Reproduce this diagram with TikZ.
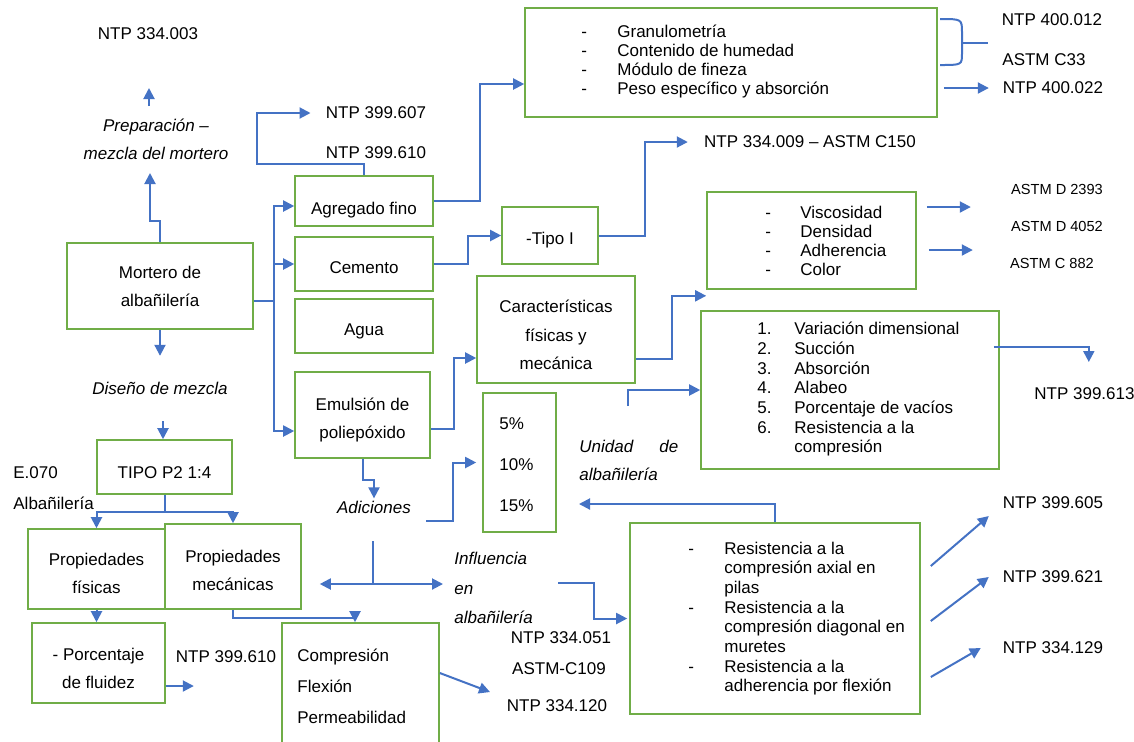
\documentclass[tikz,border=0pt]{standalone}
\usepackage{fontspec}
\setmainfont{Liberation Sans}
\usetikzlibrary{arrows.meta}

\definecolor{boxgreen}{RGB}{112,173,71}
\definecolor{linkblue}{RGB}{68,114,196}

\newcommand{\boxtext}[2][0pt]{\raisebox{-#1}[\height][\depth]{\begin{tabular}{@{}c@{}}#2\end{tabular}}}

\tikzset{
   box/.style={draw=boxgreen, line width=0.8pt, inner sep=0pt, align=center, font=\fontsize{8.5}{14}\selectfont},
   txt/.style={inner sep=1pt, font=\fontsize{8.5}{10}\selectfont},
   txts/.style={inner sep=1pt, font=\fontsize{7.3}{9}\selectfont},
   txti/.style={inner sep=1pt, align=left, font=\fontsize{8.5}{14}\selectfont\itshape},
   lst/.style={inner sep=0pt, align=left, font=\fontsize{8.5}{9.5}\selectfont},
   arr/.style={draw=linkblue, line width=1pt, -{Triangle[length=5.5pt,width=5.5pt]}},
   lnk/.style={draw=linkblue, line width=1pt}
}

\begin{document}
\begin{tikzpicture}[x=0.5pt, y=-0.5pt]

   \useasboundingbox (0,0) rectangle (1134,741);
   \clip (0,0) rectangle (1134,741);

   \node[box, minimum width=93pt, minimum height=43pt] (mortero) at (160,286) {\boxtext[0.5pt]{Mortero de\\albañilería}};
   \node[box, minimum width=67.5pt, minimum height=27pt] (tipo) at (164.5,467) {\boxtext[3pt]{TIPO P2 1:4}};
   \node[box, minimum width=68.5pt, minimum height=40pt] (pfis) at (96.5,569) {\boxtext[2.5pt]{Propiedades\\físicas}};
   \node[box, minimum width=68pt, minimum height=42.5pt] (pmec) at (233,566.5) {\boxtext[2pt]{Propiedades\\mecánicas}};
   \node[box, minimum width=66.5pt, minimum height=40pt] (fluidez) at (98.5,663) {\boxtext[3pt]{- Porcentaje\\de fluidez}};
   \node[box, minimum width=78.5pt, minimum height=68.5pt] (compr) at (360.5,691.5) {};
   \node[lst, anchor=west, font=\fontsize{8.5}{15.5}\selectfont] (comprlst) at (297,686) {Compresión\\Flexión\\Permeabilidad};
   \node[box, minimum width=69pt, minimum height=25pt] (agregado) at (364,201) {\boxtext[4pt]{Agregado fino}};
   \node[box, minimum width=69pt, minimum height=27pt] (cemento) at (364,264) {\boxtext[2pt]{Cemento}};
   \node[box, minimum width=69pt, minimum height=27pt] (agua) at (364,326) {\boxtext[2pt]{Agua}};
   \node[box, minimum width=67.5pt, minimum height=43pt] (emulsion) at (362.5,415) {\boxtext[2pt]{Emulsión de\\poliepóxido}};
   \node[box, minimum width=206pt, minimum height=54.5pt] (gran) at (731,62.5) {};
   \node[lst, anchor=west] (granlst) at (581,62.5) {\begin{tabular}{@{}p{18pt}@{}l@{}}-&Granulometría\\-&Contenido de humedad\\-&Módulo de fineza\\-&Peso específico y absorción\end{tabular}};
   \node[box, minimum width=48pt, minimum height=28.5pt] (tipoI) at (550,235.5) {\boxtext[1.5pt]{-Tipo I}};
   \node[box, minimum width=79pt, minimum height=53.5pt, font=\fontsize{8.5}{14.25}\selectfont] (caract) at (556,329.5) {\boxtext[3pt]{Características\\físicas y\\mecánica}};
   \node[box, minimum width=104.5pt, minimum height=48.5pt] (visc) at (811.5,240.5) {};
   \node[lst, anchor=west] (visclst) at (765,243.5) {\begin{tabular}{@{}p{17.5pt}@{}l@{}}-&Viscosidad\\-&Densidad\\-&Adherencia\\-&Color\end{tabular}};
   \node[box, minimum width=149pt, minimum height=79pt] (variac) at (850,390) {};
   \node[lst, anchor=west, font=\fontsize{8.5}{9.83}\selectfont] (variaclst) at (757,390) {\begin{tabular}{@{}p{18.5pt}@{}l@{}}1.&Variación dimensional\\2.&Succión\\3.&Absorción\\4.&Alabeo\\5.&Porcentaje de vacíos\\6.&Resistencia a la\\&compresión\end{tabular}};
   \node[box, minimum width=36.5pt, minimum height=69.5pt] (pct) at (519.5,462.5) {};
   \node[lst, anchor=west, font=\fontsize{8.5}{20.5}\selectfont] (pctlst) at (499,464.5) {5\%\\10\%\\15\%};
   \node[box, minimum width=145pt, minimum height=95.5pt] (resist) at (775,618.5) {};
   \node[lst, anchor=west, font=\fontsize{8.5}{9.85}\selectfont] (resistlst) at (688,619) {\begin{tabular}{@{}p{18pt}@{}l@{}}-&Resistencia a la\\&compresión axial en\\&pilas\\-&Resistencia a la\\&compresión diagonal en\\&muretes\\-&Resistencia a la\\&adherencia por flexión\end{tabular}};

   \node[txt] (n334003) at (148,34) {NTP 334.003};
   \node[txti, align=center] (prep) at (156,139) {Preparación –\\mezcla del mortero};
   \node[txti] (diseno) at (160,388) {Diseño de mezcla};
   \node[lst, anchor=west, font=\fontsize{8.5}{15.5}\selectfont] (e070) at (13,488) {E.070\\Albañilería};
   \node[txti] (adic) at (374,507) {Adiciones};
   \node[txti, anchor=west, inner sep=0pt, font=\fontsize{8.5}{14.75}\selectfont\itshape] (influ) at (454,588) {Influencia\\en\\albañilería};
   \node[txti, anchor=west, inner sep=0pt] (unidad) at (579,460) {\makebox[49.5pt][l]{Unidad\hfill de}\\albañilería};
   \node[txt] (n399607) at (376,113) {NTP 399.607};
   \node[txt] (n399610a) at (376,153) {NTP 399.610};
   \node[txt] (n400012) at (1052,20) {NTP 400.012};
   \node[txt, anchor=west] (astmc33) at (1000,60) {ASTM C33};
   \node[txt] (n400022) at (1053,88) {NTP 400.022};
   \node[txt] (n334009) at (810,142) {NTP 334.009 – ASTM C150};
   \node[txts] (d2393) at (1057,189) {ASTM D 2393};
   \node[txts] (d4052) at (1057,226) {ASTM D 4052};
   \node[txts] (c882) at (1052,263) {ASTM C 882};
   \node[txt, anchor=west] (n399613) at (1032,394) {NTP 399.613};
   \node[txt] (n399605) at (1053,503) {NTP 399.605};
   \node[txt] (n399621) at (1053,577) {NTP 399.621};
   \node[txt] (n334129) at (1053,648) {NTP 334.129};
   \node[txt] (n334051) at (561,638) {NTP 334.051};
   \node[txt] (astmc109) at (559,669) {ASTM-C109};
   \node[txt] (n334120) at (557,706) {NTP 334.120};
   \node[txt] (n399610b) at (226,657) {NTP 399.610};

   \coordinate (t1a) at (149,106);
   \coordinate (t1b) at (149,88);
   \coordinate (t2) at (150,173);
   \coordinate (t9) at (490,692);
   \coordinate (s11) at (426,521);
   \coordinate (j12a) at (373,541);
   \coordinate (j12) at (373,584);
   \coordinate (s13) at (558,583);
   \coordinate (t14) at (579,504);
   \coordinate (s30) at (628,406);

   \draw[arr] (t1a) -- (t1b);
   \draw[arr] (mortero.north) -- ++(0,-21) -| (t2);
   \draw[arr] (mortero.south) -- ++(0,26);
   \draw[arr] (tipo.north) ++(-1.5,-18) -- ++(0,18);
   \draw[arr] (tipo.south) -- ++(0,17) -| (pfis.north);
   \draw[arr] (tipo.south) -- ++(0,17) -| (pmec.north);
   \draw[arr] (pfis.south) -- (pfis.south |- fluidez.north);
   \draw[arr] (fluidez.east) ++(0,23) -- ++(28,0);
   \draw[arr] (pmec.south) -- ++(0,8) -| ([xshift=-2.75pt]compr.north);
   \draw[arr] (compr.east) ++(0,-18.5) -- (t9);
   \draw[arr] (emulsion.south) -- ++(0,21) -| (adic.north);
   \draw[arr, shorten >=3pt] (s11) -- ++(27,0) |- (pct.west);
   \draw[lnk] (j12a) -- (j12);
   \draw[arr] (j12) -- ([xshift=9pt]pmec.east |- j12);
   \draw[arr] (j12) -- ([xshift=-5.5pt]influ.west |- j12);
   \draw[arr] (s13) -- ++(36,0) |- ([xshift=-1pt]resist.west);
   \draw[arr] (resist.north) |- (t14);
   \draw[arr] (resist.east) ++(10,-52.5) -- ++(58,-50);
   \draw[arr] (resist.east) ++(10,2.5) -- ++(58,-44);
   \draw[arr] (resist.east) ++(10,58.5) -- ++(50,-29);

   \draw[arr] (mortero.east) ++(0,15) -- ++(20,0) |- ([yshift=-2.5pt]agregado.west);
   \draw[arr] (mortero.east) ++(0,15) -- ++(20,0) |- (cemento.west);
   \draw[arr] (mortero.east) ++(0,15) -- ++(20,0) |- ([yshift=-8pt]emulsion.west);
   \draw[arr] (agregado.north) -- ++(0,-11) -- ++(-107,0) |- ([xshift=-6.5pt]n399607.west);
   \draw[arr] (agregado.east) -- ++(46,0) |- ([yshift=-10.75pt]gran.west);
   \draw[lnk] (940,19) .. controls (962,19) and (962,19) .. (962,33) -- (962,53) .. controls (962,65) and (962,65) .. (940,65);
   \draw[lnk] (962,43) -- (988,43);
   \draw[arr] (gran.east) ++(6,25.5) -- ++(45,0);
   \draw[arr] (cemento.east) -- ++(34,0) |- (tipoI.west);
   \draw[arr] (tipoI.east) -- ++(46,0) |- ([xshift=-7pt]n334009.west);
   \draw[arr] (emulsion.east) ++(0,14) -- ++(23,0) |- ([yshift=-14.25pt]caract.west);
   \draw[arr] (caract.east) ++(0,29.5) -- ++(36,0) |- ([yshift=-3pt]visc.south west);
   \draw[arr] (visc.east) ++(10,-33.5) -- ++(44,0);
   \draw[arr] (visc.east) ++(12,9.5) -- ++(44,0);
   \draw[arr] (variac.east) ++(-6,-43) -| ++(95,15);
   \draw[arr] (s30) |- (variac.west);

\end{tikzpicture}
\end{document}
